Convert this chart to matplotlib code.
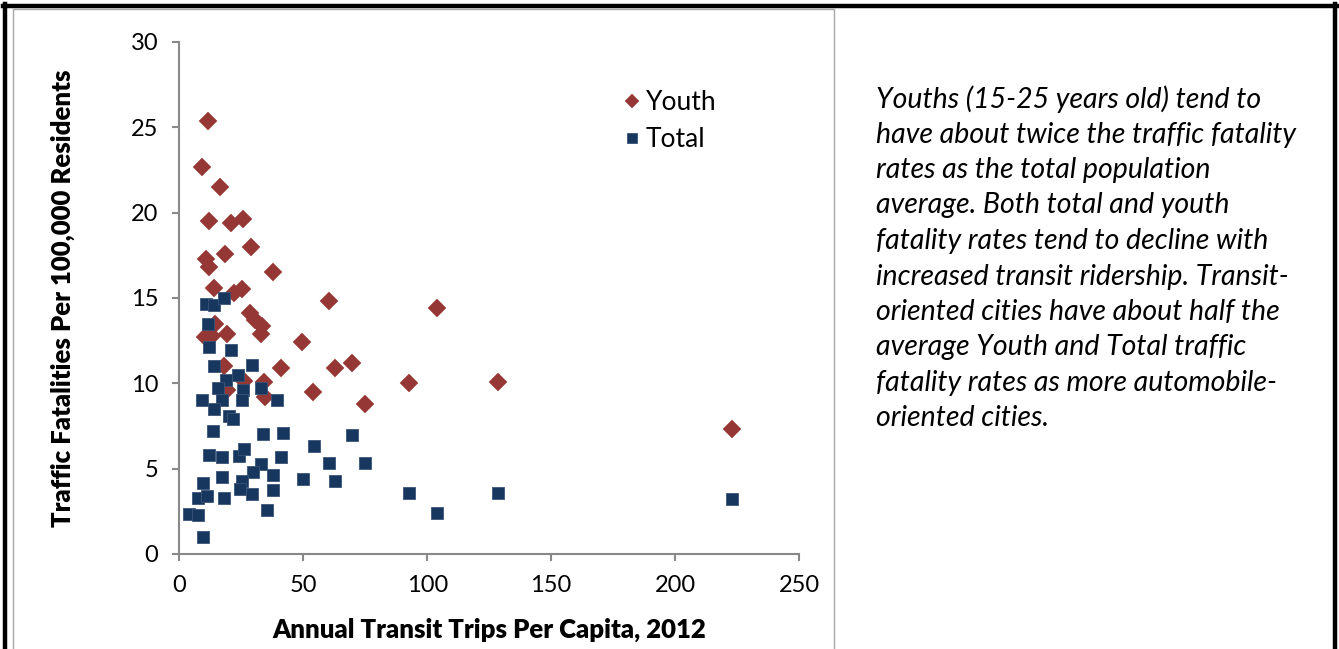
import matplotlib
matplotlib.use("Agg")
import matplotlib.pyplot as plt
from matplotlib.lines import Line2D
from matplotlib.patches import Rectangle

plt.rcParams['font.family'] = ['Lato', 'DejaVu Sans']

# Youth fatality rates vs transit trips per capita
youth_trips = [11.5, 9.2, 16.4, 11.8, 20.7, 25.8, 29.1, 18.4, 10.8, 12.0,
               37.8, 60.4, 13.8, 21.9, 25.3, 28.6, 30.7, 33.4, 32.8, 14.5,
               19.2, 10.4, 13.1, 49.6, 18.2, 41.2, 62.8, 69.5, 25.9, 34.0,
               19.2, 34.7, 54.1, 74.8, 92.6, 104.0, 128.6, 223.1]
youth_rate = [25.4, 22.7, 21.5, 19.5, 19.4, 19.6, 18.0, 17.6, 17.3, 16.8,
              16.5, 14.8, 15.6, 15.3, 15.5, 14.1, 13.7, 13.35, 12.9, 13.45,
              12.9, 12.7, 12.8, 12.4, 11.0, 10.9, 10.9, 11.2, 10.15, 10.1,
              9.6, 9.2, 9.5, 8.8, 10.0, 14.4, 10.1, 7.3]

# Total population fatality rates
total_trips = [10.8, 13.8, 18.2, 11.5, 11.8, 20.9, 13.8, 29.3, 23.7, 18.8,
               15.5, 25.5, 33.1, 9.1, 17.2, 25.3, 39.5, 13.8, 20.2, 21.6,
               13.5, 33.8, 42.0, 69.5, 54.4, 12.1, 17.4, 24.2, 26.2, 41.1,
               60.5, 75.0, 33.0, 29.7, 17.4, 9.7, 25.3, 37.6, 49.8, 63.0,
               24.3, 37.6, 7.7, 11.1, 18.2, 29.2, 4.1, 7.7, 35.3, 9.5,
               92.6, 104.0, 128.6, 223.1]
total_rate = [14.65, 14.6, 15.0, 13.5, 12.1, 11.95, 11.0, 11.1, 10.5, 10.2,
              9.75, 9.6, 9.7, 9.0, 9.05, 9.05, 9.0, 8.5, 8.1, 7.9,
              7.2, 7.05, 7.1, 6.95, 6.3, 5.8, 5.7, 5.75, 6.15, 5.7,
              5.35, 5.35, 5.3, 4.8, 4.5, 4.15, 4.27, 4.6, 4.4, 4.27,
              3.83, 3.77, 3.3, 3.38, 3.28, 3.5, 2.37, 2.27, 2.57, 1.0,
              3.6, 2.4, 3.55, 3.22]

note_lines = [
    "Youths (15-25 years old) tend to",
    "have about twice the traffic fatality",
    "rates as the total population",
    "average. Both total and youth",
    "fatality rates tend to decline with",
    "increased transit ridership. Transit-",
    "oriented cities have about half the",
    "average Youth and Total traffic",
    "fatality rates as more automobile-",
    "oriented cities.",
]

W, H = 1339, 649
fig = plt.figure(figsize=(W / 100, H / 100), dpi=100)
fig.patch.set_facecolor('white')

def fx(px):
    return px / W

def fy(py):
    return 1 - py / H

# page frame and chart area box
fig.add_artist(Line2D([fx(3), fx(1339)], [fy(5.5), fy(5.5)], color='black', lw=3.2))
fig.add_artist(Line2D([fx(4.5), fx(4.5)], [fy(4), fy(649)], color='black', lw=3.2))
fig.add_artist(Line2D([fx(1335), fx(1335)], [fy(4), fy(649)], color='black', lw=3.2))
fig.add_artist(Rectangle((fx(13), fy(652)), fx(834) - fx(13), fy(8.5) - fy(652),
                         transform=fig.transFigure, fill=False,
                         edgecolor='#a6a6a6', lw=1.0))

ax = fig.add_axes([fx(179.3), fy(554), fx(799) - fx(179.3), fy(42) - fy(554)])
ax.set_xlim(0, 250)
ax.set_ylim(0, 30)

red = '#953735'
blue = '#17375e'
ax.plot(youth_trips, youth_rate, linestyle='none', marker='D', markersize=9,
        color=red, markeredgecolor=red, markeredgewidth=0.3, label='Youth',
        clip_on=False)
ax.plot(total_trips, total_rate, linestyle='none', marker='s', markersize=9,
        color=blue, markeredgecolor='#3a5478', markeredgewidth=0.6, label='Total',
        clip_on=False)

ax.set_xticks(range(0, 251, 50))
ax.set_yticks(range(0, 31, 5))
for side in ['top', 'right']:
    ax.spines[side].set_visible(False)
for side in ['left', 'bottom']:
    ax.spines[side].set_color('#898989')
    ax.spines[side].set_linewidth(1.5)
ax.tick_params(direction='out', length=5, width=1.5, color='#898989',
               labelsize=17, labelcolor='black', pad=10)

ax.set_xlabel('Annual Transit Trips Per Capita, 2012', fontsize=18.5,
              fontweight='heavy', labelpad=16)
ax.set_ylabel('Traffic Fatalities Per 100,000 Residents', fontsize=18.5,
              fontweight='heavy', labelpad=40)

leg = ax.legend(loc='upper left', bbox_to_anchor=(0.7, 0.926), frameon=False,
                fontsize=19, handlelength=0.6, handletextpad=0.25,
                labelspacing=0.45, borderaxespad=0, markerscale=0.75)

for i, line in enumerate(note_lines):
    fig.text(fx(876), fy(99 + i * 35.5), line, fontsize=20.5, fontstyle='italic',
             ha='left', va='center')

fig.savefig('out.png', dpi=100)
